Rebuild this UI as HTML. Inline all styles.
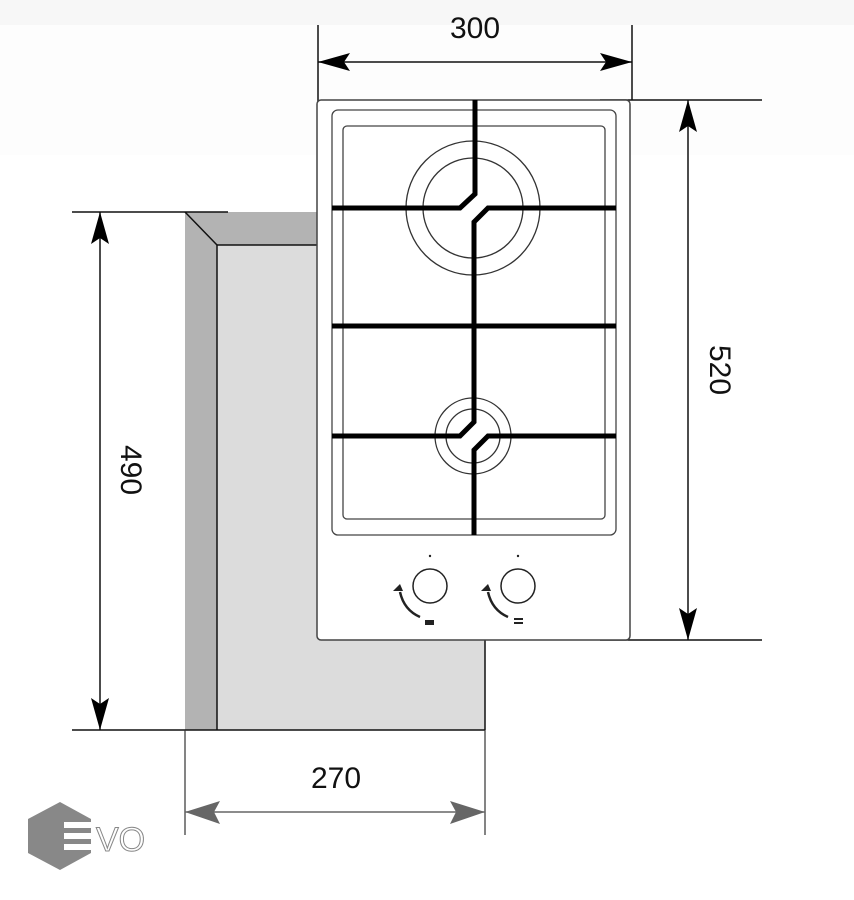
<!DOCTYPE html>
<html><head><meta charset="utf-8"><style>
html,body{margin:0;padding:0;background:#fff;}
svg{display:block;font-family:"Liberation Sans","DejaVu Sans",sans-serif;}
</style></head><body>
<svg width="854" height="900" viewBox="0 0 854 900" xmlns="http://www.w3.org/2000/svg">
<rect x="0" y="0" width="854" height="25" fill="#f7f7f7"/>
<rect x="0" y="25" width="854" height="130" fill="#fdfdfd"/>
<rect x="0" y="155" width="854" height="745" fill="#fff"/>

<!-- cabinet -->
<polygon points="185,212 317,212 317,245 217,245 217,730 185,730" fill="#b3b3b3"/>
<rect x="217" y="245" width="268" height="485" fill="#dcdcdc"/>
<g stroke="#111" stroke-width="1.5" fill="none">
<line x1="185" y1="212" x2="217" y2="245"/>
<line x1="217" y1="245" x2="217" y2="730"/>
<line x1="217" y1="245" x2="317" y2="245"/>
<line x1="485" y1="640" x2="485" y2="730"/>
<line x1="72" y1="730" x2="485" y2="730"/>
<line x1="72" y1="212" x2="228" y2="212"/>
<line x1="100" y1="212" x2="100" y2="730"/>
</g>
<g fill="#000">
<polygon points="100,212 91,244 100,238 109,244"/>
<polygon points="100,730 91,698 100,704 109,698"/>
</g>
<text transform="translate(121,470) rotate(90)" font-size="30" text-anchor="middle" fill="#111">490</text>

<!-- top dim -->
<g stroke="#111" stroke-width="1.5" fill="none">
<line x1="318" y1="25" x2="318" y2="130"/>
<line x1="632" y1="25" x2="632" y2="100"/>
<line x1="318" y1="62" x2="632" y2="62"/>
<line x1="600" y1="100" x2="762" y2="100"/>
<line x1="600" y1="640" x2="762" y2="640"/>
<line x1="688" y1="100" x2="688" y2="640"/>
</g>
<g fill="#000">
<polygon points="318,62 350,53 344,62 350,71"/>
<polygon points="632,62 600,53 606,62 600,71"/>
<polygon points="688,100 679,132 688,126 697,132"/>
<polygon points="688,640 679,608 688,614 697,608"/>
</g>
<text x="475" y="38" font-size="30" text-anchor="middle" fill="#111">300</text>
<text transform="translate(710,370) rotate(90)" font-size="30" text-anchor="middle" fill="#111">520</text>

<!-- bottom dim -->
<g stroke="#333" stroke-width="1.2" fill="none">
<line x1="185" y1="730" x2="185" y2="835"/>
<line x1="485" y1="730" x2="485" y2="835"/>
</g>
<line x1="185" y1="812" x2="485" y2="812" stroke="#666" stroke-width="1.5"/>
<g fill="#666">
<polygon points="185,812 220,801 214,812 220,824"/>
<polygon points="485,812 450,801 456,812 450,824"/>
</g>
<text x="336" y="788" font-size="30" text-anchor="middle" fill="#111">270</text>

<!-- hob -->
<rect x="317" y="100" width="313" height="540" rx="4" fill="#fff" stroke="#444" stroke-width="1.5"/>
<rect x="332" y="110" width="284" height="425" rx="6" fill="none" stroke="#444" stroke-width="1.3"/>
<rect x="343" y="126" width="262" height="393" rx="4" fill="none" stroke="#444" stroke-width="1.3"/>
<g fill="none" stroke="#333" stroke-width="1.3">
<circle cx="473" cy="208" r="67"/>
<circle cx="473" cy="208" r="50"/>
<circle cx="473" cy="436" r="38"/>
<circle cx="473" cy="436" r="27"/>
</g>
<g fill="none" stroke="#000" stroke-width="5">
<polyline points="475,100 475,194 460,208 332,208"/>
<polyline points="616,208 488,208 474,222 474,422 460,436 332,436"/>
<polyline points="616,436 488,436 474,450 474,535"/>
<line x1="332" y1="326" x2="616" y2="326"/>
</g>
<!-- knobs -->
<g fill="none" stroke="#222" stroke-width="1.5">
<circle cx="430" cy="586" r="17"/>
<circle cx="518" cy="586" r="17"/>
<path d="M400,592 Q404,610 420,617" stroke-width="2.5"/>
<path d="M488,592 Q492,610 508,617" stroke-width="2.5"/>
</g>
<g fill="#222">
<circle cx="430" cy="556" r="1.2"/><circle cx="518" cy="556" r="1.2"/>
<path d="M393,591 l7,-7 l3,7 z"/><path d="M481,591 l7,-7 l3,7 z"/>
<rect x="425" y="620" width="9" height="5"/>
<rect x="514" y="618" width="9" height="2"/><rect x="514" y="622" width="9" height="2"/>
</g>

<!-- logo -->
<polygon points="60,802 91,819 91,853 60,870 28,853 28,819" fill="#888"/>
<g fill="#fff">
<rect x="64" y="822" width="28" height="6"/>
<rect x="64" y="833" width="28" height="6"/>
<rect x="64" y="844" width="28" height="6"/>
</g>
<text x="96" y="851" font-size="34" fill="#fff" stroke="#888" stroke-width="1">VO</text>
</svg>
</body></html>
